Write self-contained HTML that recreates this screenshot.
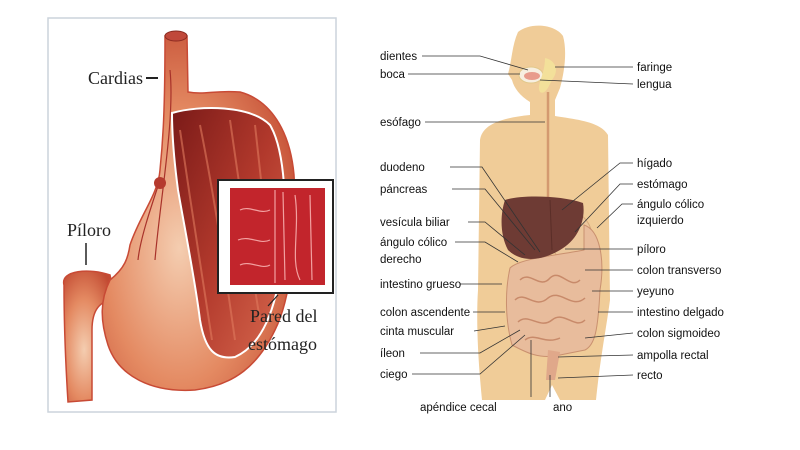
<!DOCTYPE html>
<html><head><meta charset="utf-8"><style>
body{margin:0;background:#fff;width:800px;height:450px;overflow:hidden}
svg{display:block}
.l{font-family:"Liberation Sans",sans-serif;font-size:11.5px;fill:#111}
.s{font-family:"Liberation Serif",serif;font-size:18px;fill:#222}
</style></head><body>
<svg width="800" height="450" viewBox="0 0 800 450">
<defs>
<radialGradient id="st" cx="0.4" cy="0.6" r="0.7"><stop offset="0" stop-color="#f4cdb0"/><stop offset="0.55" stop-color="#e48a62"/><stop offset="1" stop-color="#c24a32"/></radialGradient>
<linearGradient id="in" x1="0" y1="0" x2="1" y2="1"><stop offset="0" stop-color="#7a1a18"/><stop offset="0.5" stop-color="#b2392c"/><stop offset="1" stop-color="#d86a4f"/></linearGradient>
</defs>
<rect x="48" y="18" width="288" height="394" fill="#fff" stroke="#ccd3dc" stroke-width="1.5"/>
<path d="M64,285 C60,270 90,268 110,275 L115,300 C100,300 92,310 92,330 L92,400 L68,402 C66,370 64,320 64,285Z" fill="url(#st)" stroke="#c84a35" stroke-width="1.5"/>
<path d="M165,36 L187,36 L188,92 C205,95 215,90 240,92 C270,100 290,130 294,175 C298,240 290,300 275,330 C258,365 235,385 195,390 C150,393 118,375 108,345 C100,320 100,300 110,280 C125,268 128,258 130,245 C140,215 158,195 160,170 C163,140 165,110 165,36Z" fill="url(#st)" stroke="#c84a35" stroke-width="1.5"/>
<ellipse cx="176" cy="36" rx="11" ry="5" fill="#c0483a" stroke="#8a2a20"/>
<path d="M172,113 C200,105 250,105 270,125 C285,150 288,210 282,260 C276,310 262,345 235,357 C215,360 205,350 200,320 C195,280 185,230 178,190 C174,160 172,135 172,113Z" fill="url(#in)" stroke="#fff" stroke-width="2"/>
<path d="M180,130 C190,200 200,260 212,340 M200,125 C215,200 225,270 235,340 M230,120 C240,190 250,260 260,320 M255,125 C262,190 268,240 272,280" stroke="#e07a5e" stroke-width="2" fill="none" opacity="0.6"/>
<path d="M170,70 C175,120 160,200 155,260 M160,180 C150,210 140,240 138,260" stroke="#a8322a" stroke-width="1.2" fill="none"/>
<circle cx="160" cy="183" r="6" fill="#b53a2e"/>
<rect x="218" y="180" width="115" height="113" fill="#fff" stroke="#222" stroke-width="2"/>
<rect x="230" y="188" width="95" height="97" fill="#c2252c"/>
<path d="M275,190 L275,283 M283,192 L285,280 M295,195 C300,230 290,260 300,280 M310,195 L312,280 M240,210 C250,205 260,215 270,210 M238,240 C250,235 260,245 270,240 M240,265 C250,260 262,270 270,265" stroke="#f2a0a0" stroke-width="1.2" fill="none"/>
<text class="s" x="88" y="84">Cardias</text><line x1="146" y1="78" x2="158" y2="78" stroke="#222" stroke-width="2"/>
<text class="s" x="67" y="236">Píloro</text><line x1="86" y1="243" x2="86" y2="265" stroke="#222" stroke-width="1.5"/>
<text class="s" x="250" y="322">Pared del</text><text class="s" x="248" y="350">estómago</text>
<line x1="278" y1="295" x2="268" y2="306" stroke="#222" stroke-width="1.2"/>
<path d="M518,32 C530,22 555,24 563,36 C567,50 565,70 560,88 L555,100 L555,116 C580,120 600,122 608,135 L610,300 C606,330 600,360 596,400 L560,400 L552,385 L545,400 L482,400 C478,360 476,320 478,290 L480,140 C482,125 500,118 530,115 L530,102 C520,96 514,88 512,80 L508,74 C512,60 512,45 518,32Z" fill="#f0cc98"/>
<ellipse cx="531" cy="75" rx="12" ry="8" fill="#f7efe0" stroke="#e2c88a"/>
<ellipse cx="532" cy="76" rx="8" ry="4" fill="#e89c8c"/>
<path d="M545,58 C555,60 560,70 552,80 C548,88 545,95 540,92 C536,85 545,75 545,58Z" fill="#f3e09a"/>
<line x1="548" y1="92" x2="548" y2="205" stroke="#d49a70" stroke-width="2.5"/>
<path d="M548,205 C570,205 590,215 592,235 C590,255 575,260 560,258 C548,250 545,230 548,205Z" fill="#ecc79c" stroke="#d4a77a"/>
<path d="M584,225 C600,230 605,260 600,290 C598,330 595,345 585,350 L560,355 C540,360 525,352 512,345 C505,320 505,290 510,268 C520,258 560,255 584,250Z" fill="#e8bc9c" stroke="#c9906f"/>
<path d="M520,280 C530,270 540,290 550,278 C560,268 570,290 580,280 M515,300 C525,290 535,310 548,298 C560,288 572,310 585,298 M518,322 C528,312 540,330 552,320 C564,310 575,330 585,320 M525,340 C535,332 545,345 560,338" stroke="#c88a6a" stroke-width="1.5" fill="none"/>
<path d="M548,350 L560,352 L555,380 L546,380Z" fill="#e0a88a"/>
<path d="M505,200 C520,195 560,195 583,203 C586,220 578,240 560,250 C540,262 520,262 508,250 C500,235 500,215 505,200Z" fill="#6e3b34"/>
<path d="M550,200 L552,250" stroke="#5a2e28" stroke-width="1"/>
<g stroke="#333" stroke-width="0.8" fill="none">
<path d="M422,56 L480,56 L528,70"/><path d="M408,74 L520,74"/><path d="M425,122 L545,122"/>
<path d="M450,167 L482,167 L540,252"/><path d="M452,189 L485,189 L535,250"/><path d="M468,222 L485,222 L525,255"/>
<path d="M455,242 L485,242 L518,262"/><path d="M460,284 L502,284"/><path d="M473,312 L505,312"/>
<path d="M474,331 L505,326"/><path d="M420,353 L480,353 L520,330"/><path d="M412,374 L480,374 L525,335"/>
<line x1="531" y1="340" x2="531" y2="397"/><line x1="550" y1="375" x2="550" y2="397"/>
<path d="M633,67 L555,67"/><path d="M633,84 L540,80"/><path d="M633,163 L620,163 L562,210"/>
<path d="M633,184 L620,184 L575,232"/><path d="M633,204 L622,204 L597,228"/><path d="M633,249 L565,249"/>
<path d="M633,270 L585,270"/><path d="M633,291 L592,291"/><path d="M633,312 L598,312"/>
<path d="M633,333 L585,338"/><path d="M633,355 L558,357"/><path d="M633,375 L558,378"/>
</g>
<text class="l" x="380" y="60">dientes</text><text class="l" x="380" y="78">boca</text>
<text class="l" x="380" y="126">esófago</text><text class="l" x="380" y="171">duodeno</text>
<text class="l" x="380" y="193">páncreas</text><text class="l" x="380" y="226">vesícula biliar</text>
<text class="l" x="380" y="246">ángulo cólico</text><text class="l" x="380" y="263">derecho</text>
<text class="l" x="380" y="288">intestino grueso</text><text class="l" x="380" y="316">colon ascendente</text>
<text class="l" x="380" y="335">cinta muscular</text><text class="l" x="380" y="357">íleon</text>
<text class="l" x="380" y="378">ciego</text><text class="l" x="420" y="411">apéndice cecal</text>
<text class="l" x="553" y="411">ano</text>
<text class="l" x="637" y="71">faringe</text><text class="l" x="637" y="88">lengua</text>
<text class="l" x="637" y="167">hígado</text><text class="l" x="637" y="188">estómago</text>
<text class="l" x="637" y="208">ángulo cólico</text><text class="l" x="637" y="224">izquierdo</text>
<text class="l" x="637" y="253">píloro</text><text class="l" x="637" y="274">colon transverso</text>
<text class="l" x="637" y="295">yeyuno</text><text class="l" x="637" y="316">intestino delgado</text>
<text class="l" x="637" y="337">colon sigmoideo</text><text class="l" x="637" y="359">ampolla rectal</text>
<text class="l" x="637" y="379">recto</text>
</svg>
</body></html>
